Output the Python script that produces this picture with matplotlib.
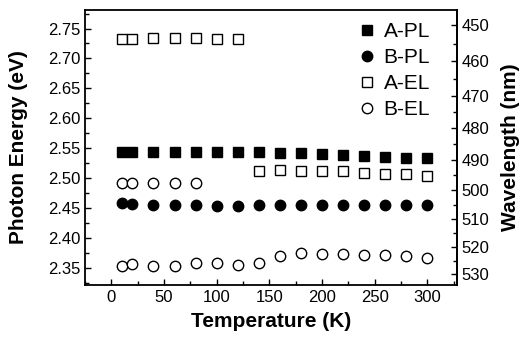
import matplotlib
matplotlib.use("Agg")
import matplotlib.pyplot as plt
from matplotlib.ticker import MultipleLocator, FixedLocator
import numpy as np

plt.rcParams['font.family'] = ['Liberation Sans', 'DejaVu Sans']

T_all = [10, 20, 40, 60, 80, 100, 120, 140, 160, 180, 200, 220, 240, 260, 280, 300]
A_PL = [2.544, 2.544, 2.544, 2.544, 2.544, 2.544, 2.544, 2.543, 2.542, 2.541, 2.540, 2.538, 2.536, 2.535, 2.534, 2.533]
B_PL = [2.458, 2.456, 2.455, 2.455, 2.454, 2.453, 2.453, 2.454, 2.455, 2.455, 2.455, 2.455, 2.455, 2.455, 2.455, 2.455]

T_AEL_hi = [10, 20, 40, 60, 80, 100, 120]
A_EL_hi = [2.733, 2.733, 2.735, 2.735, 2.735, 2.733, 2.733]
T_AEL_lo = [140, 160, 180, 200, 220, 240, 260, 280, 300]
A_EL_lo = [2.512, 2.514, 2.512, 2.512, 2.511, 2.509, 2.507, 2.506, 2.503]

T_BEL_hi = [10, 20, 40, 60, 80]
B_EL_hi = [2.492, 2.492, 2.492, 2.492, 2.492]
B_EL_lo = [2.353, 2.356, 2.353, 2.353, 2.357, 2.357, 2.355, 2.357, 2.370, 2.374, 2.373, 2.373, 2.372, 2.371, 2.369, 2.366]

fig = plt.figure(figsize=(5.24, 3.39), dpi=100)
ax = fig.add_axes([0.1622, 0.1593, 0.7099, 0.8112])

ms = 7.5
ax.plot(T_all, A_PL, 's', color='black', ms=ms - 0.5, label='A-PL')
ax.plot(T_all, B_PL, 'o', color='black', ms=ms, label='B-PL')
ax.plot(T_AEL_hi, A_EL_hi, 's', mfc='white', mec='black', mew=1.0, ms=ms, label='A-EL')
ax.plot(T_AEL_lo, A_EL_lo, 's', mfc='white', mec='black', mew=1.0, ms=ms)
ax.plot(T_BEL_hi, B_EL_hi, 'o', mfc='white', mec='black', mew=1.0, ms=ms, label='B-EL')
ax.plot(T_all, B_EL_lo, 'o', mfc='white', mec='black', mew=1.0, ms=ms)

ax.set_xlim(-25, 328)
ax.set_ylim(2.321, 2.781)
ax.xaxis.set_major_locator(MultipleLocator(50))
ax.xaxis.set_minor_locator(MultipleLocator(25))
ax.yaxis.set_major_locator(MultipleLocator(0.05))
ax.yaxis.set_minor_locator(MultipleLocator(0.025))
ax.yaxis.set_major_formatter(matplotlib.ticker.FormatStrFormatter('%.2f'))
ax.tick_params(which='both', direction='in', labelsize=12, width=1.0)
ax.tick_params(which='major', length=4.5)
ax.tick_params(which='minor', length=3)
ax.tick_params(axis='y', which='both', right=False)
for s in ax.spines.values():
    s.set_linewidth(1.3)

ax.set_xlabel('Temperature (K)', fontsize=15, fontweight='bold', labelpad=5)
ax.set_ylabel('Photon Energy (eV)', fontsize=15, fontweight='bold', labelpad=14)

hc = 1239.84
sec = ax.secondary_yaxis('right', functions=(lambda e: hc / np.clip(e, 1e-6, None),
                                              lambda l: hc / np.clip(l, 1e-6, None)))
sec.yaxis.set_major_locator(FixedLocator([450, 460, 470, 480, 490, 500, 510, 520, 530]))
sec.yaxis.set_minor_locator(FixedLocator([455, 465, 475, 485, 495, 505, 515, 525]))
sec.tick_params(which='both', direction='in', labelsize=12, width=1.0)
sec.tick_params(which='major', length=4.5)
sec.tick_params(which='minor', length=3)
sec.spines['right'].set_linewidth(1.3)
sec.set_ylabel('Wavelength (nm)', fontsize=15, fontweight='bold', labelpad=8)

leg = ax.legend(loc='upper right', bbox_to_anchor=(0.95, 0.985), frameon=False, fontsize=15,
                handletextpad=0.3, labelspacing=0.33, borderaxespad=0.0, handlelength=1.0)

fig.savefig('out.png', dpi=100)
